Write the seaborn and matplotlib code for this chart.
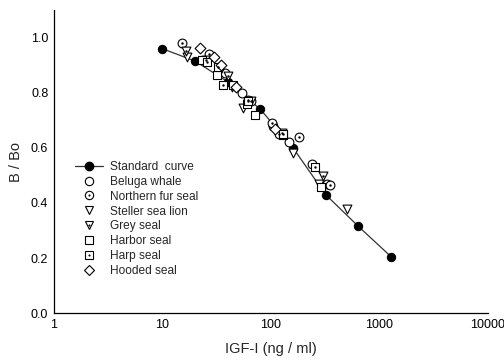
import matplotlib
matplotlib.use("Agg")
import matplotlib.pyplot as plt
import seaborn as sns
import pandas as pd
import numpy as np
from matplotlib.lines import Line2D
from matplotlib.ticker import FixedLocator, FixedFormatter, NullLocator

sns.set_style("white")
plt.rcParams['font.family'] = ['Liberation Sans', 'DejaVu Sans']

std_x = [10, 20, 40, 80, 160, 320, 640, 1280]
std_y = [0.96, 0.915, 0.84, 0.74, 0.60, 0.43, 0.315, 0.205]

beluga_x = [27, 38, 54, 65, 105, 146, 239, 330]
beluga_y = [0.93, 0.87, 0.80, 0.77, 0.68, 0.62, 0.54, 0.47]
fur_x = [15, 27, 62, 102, 120, 181, 350]
fur_y = [0.98, 0.94, 0.775, 0.69, 0.65, 0.64, 0.465]
steller_x = [17, 33, 44, 55, 160, 280, 500]
steller_y = [0.93, 0.87, 0.82, 0.745, 0.58, 0.47, 0.378]
grey_x = [16.4, 25, 40, 65, 126, 301]
grey_y = [0.95, 0.92, 0.86, 0.77, 0.655, 0.498]
harbor_x = [23, 32, 45, 60, 71, 129, 289]
harbor_y = [0.92, 0.865, 0.83, 0.76, 0.72, 0.647, 0.458]
harp_x = [26, 32.5, 36, 62, 130, 253]
harp_y = [0.91, 0.895, 0.83, 0.77, 0.65, 0.53]
hooded_x = [22, 30, 35, 48, 110]
hooded_y = [0.964, 0.93, 0.90, 0.82, 0.67]

fig = plt.figure(figsize=(5.04, 3.62), dpi=100)
ax = fig.add_axes([0.107, 0.135, 0.861, 0.837])

ms = 40
lw = 0.8
dot_s = 3

sns.lineplot(x=std_x, y=std_y, ax=ax, color='#333333', linewidth=0.9, marker='o',
             markersize=6, markerfacecolor='black', markeredgecolor='black', zorder=3)

series = [
    (beluga_x, beluga_y, 'o', False),
    (fur_x, fur_y, 'o', True),
    (steller_x, steller_y, 'v', False),
    (grey_x, grey_y, 'v', True),
    (harbor_x, harbor_y, 's', False),
    (harp_x, harp_y, 's', True),
    (hooded_x, hooded_y, 'D', False),
]
for xs, ys, m, dotted in series:
    size = ms * (0.75 if m == 'D' else (0.9 if m == 's' else 1.0))
    sns.scatterplot(x=xs, y=ys, ax=ax, marker=m, s=size, facecolor='white',
                    edgecolor='black', linewidth=lw, zorder=4)
    if dotted:
        sns.scatterplot(x=xs, y=ys, ax=ax, marker='o', s=dot_s, color='black',
                        edgecolor='black', linewidth=0, zorder=5)

ax.set_xscale('log')
ax.set_xlim(1, 10000)
ax.set_ylim(0, 1.1)
ax.xaxis.set_major_locator(FixedLocator([1, 10, 100, 1000, 10000]))
ax.xaxis.set_major_formatter(FixedFormatter(['1', '10', '100', '1000', '10000']))
ax.xaxis.set_minor_locator(NullLocator())
ax.set_yticks([0.0, 0.2, 0.4, 0.6, 0.8, 1.0])
ax.set_yticklabels(['0.0', '0.2', '0.4', '0.6', '0.8', '1.0'])
ax.tick_params(direction='in', length=4, width=0.8, labelsize=9, colors='black', pad=4)
for s in ['top', 'right']:
    ax.spines[s].set_visible(False)
for s in ['left', 'bottom']:
    ax.spines[s].set_color('black')
    ax.spines[s].set_linewidth(0.9)
ax.set_xlabel('IGF-I (ng / ml)', fontsize=10.5, labelpad=8)
ax.set_ylabel('B / Bo', fontsize=10.5, labelpad=6)

def mk(m, s):
    return Line2D([], [], linestyle='none', marker=m, markersize=s,
                  markerfacecolor='white', markeredgecolor='black', markeredgewidth=lw)
dot = Line2D([], [], linestyle='none', marker='o', markersize=1.5,
             markerfacecolor='black', markeredgecolor='black', markeredgewidth=0)
std_h = Line2D([], [], color='#333333', linewidth=0.9, marker='o', markersize=6,
               markerfacecolor='black', markeredgecolor='black')
handles = [std_h, mk('o', 6), (mk('o', 6), dot), mk('v', 6), (mk('v', 6), dot),
           mk('s', 5.5), (mk('s', 5.5), dot), mk('D', 5.2)]
labels = ['Standard  curve', 'Beluga whale', 'Northern fur seal', 'Steller sea lion',
          'Grey seal', 'Harbor seal', 'Harp seal', 'Hooded seal']
ax.legend(handles, labels, loc='upper left', bbox_to_anchor=(0.03, 0.53), frameon=False,
          fontsize=8.6, labelspacing=0.24, handlelength=2.3, handletextpad=0.6,
          borderaxespad=0.3)

fig.savefig('out.png', dpi=100)
